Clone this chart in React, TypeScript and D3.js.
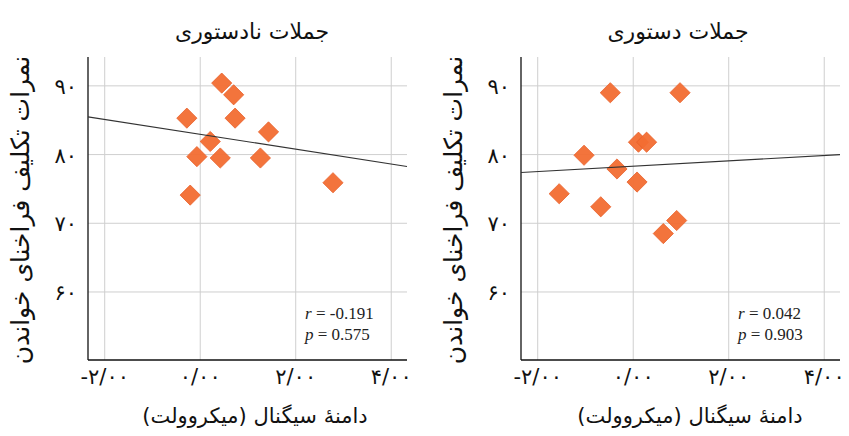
import React from "react";
import * as d3 from "d3";

// values
const xTicks = [-2, 0, 2, 4];
const xTickLabels = ["-۲/۰۰", "۰/۰۰", "۲/۰۰", "۴/۰۰"];
const yTicks = [60, 70, 80, 90];
const yTickLabels = ["۶۰", "۷۰", "۸۰", "۹۰"];

const panelTitles = ["جملات نادستوری", "جملات دستوری"];
const xTitle = "دامنهٔ سیگنال (میکروولت)";
const yTitle = "نمرات تکلیف فراخنای خواندن";

const ungrammaticalX = [0.45, 0.7, -0.28, 0.73, 1.43, 0.21, -0.07, 0.42, 1.26, 2.78, -0.21];
const ungrammaticalY = [90.4, 88.7, 85.3, 85.3, 83.3, 81.9, 79.7, 79.5, 79.5, 75.9, 74.1];

const grammaticalX = [-0.48, 0.98, 0.11, 0.28, -1.03, -0.34, 0.08, -1.55, -0.68, 0.91, 0.63];
const grammaticalY = [89.0, 89.0, 81.8, 81.8, 79.9, 77.9, 76.0, 74.3, 72.4, 70.4, 68.5];

// fitted line: [intercept, slope]
const ungrammaticalFit = [82.95, -1.08];
const grammaticalFit = [78.3, 0.39];

const rValues = ["-0.191", "0.042"];
const pValues = ["0.575", "0.903"];

const persianFont = "'DejaVu Sans', sans-serif";
const statFont = "'Liberation Serif', 'Times New Roman', serif";

const Panel = ({ left, title, xs, ys, fit, r, p, xTitleX, titleX }) => {
  const plotW = 319;
  const top = 57;
  const bottom = 360;
  const x = d3.scaleLinear().domain([-2.35, 4.33]).range([left, left + plotW]);
  const y = d3.scaleLinear().domain([50.1, 94.2]).range([bottom, top]);
  const pts = xs.map((d, i) => [d, ys[i]]);
  const [x0, x1] = x.domain();
  const line = d3.line().x((d) => x(d[0])).y((d) => y(d[1]));
  const fitPts = [
    [x0, fit[0] + fit[1] * x0],
    [x1, fit[0] + fit[1] * x1],
  ];
  const diamond = d3.symbol().type(d3.symbolDiamond2).size(260);

  return (
    <g>
      {xTicks.map((t) => (
        <line key={"gx" + t} x1={x(t)} x2={x(t)} y1={top} y2={bottom} stroke="#cfcfcf" strokeWidth={1} />
      ))}
      {yTicks.map((t) => (
        <line key={"gy" + t} x1={left} x2={left + plotW} y1={y(t)} y2={y(t)} stroke="#cfcfcf" strokeWidth={1} />
      ))}
      <line x1={left} x2={left} y1={top} y2={bottom} stroke="#111" strokeWidth={1.3} />
      <line x1={left} x2={left + plotW} y1={bottom} y2={bottom} stroke="#111" strokeWidth={1.3} />

      {pts.map((d, i) => (
        <path
          key={i}
          d={diamond()}
          transform={`translate(${x(d[0])},${y(d[1])})`}
          fill="#f26d32"
          fillOpacity={0.95}
          stroke="#e8602a"
          strokeWidth={0.8}
        />
      ))}
      <path d={line(fitPts)} fill="none" stroke="#333" strokeWidth={1.1} />

      {xTicks.map((t, i) => (
        <text
          key={"tx" + t}
          x={x(t)}
          y={384}
          textAnchor="middle"
          fontFamily={persianFont}
          fontSize={21}
          letterSpacing={3}
          fill="#111"
        >
          {xTickLabels[i]}
        </text>
      ))}
      {yTicks.map((t, i) => (
        <text key={"ty" + t} x={left - 11} y={y(t) + 8} textAnchor="end" fontFamily={persianFont} fontSize={21} letterSpacing={2} fill="#111">
          {yTickLabels[i]}
        </text>
      ))}

      <text x={left + plotW - 102} y={319} fontFamily={statFont} fontSize={17} fill="#222">
        <tspan fontStyle="italic">r</tspan> = {r}
      </text>
      <text x={left + plotW - 102} y={340} fontFamily={statFont} fontSize={17} fill="#222">
        <tspan fontStyle="italic">p</tspan> = {p}
      </text>

      <text x={titleX} y={39} textAnchor="middle" fontFamily={persianFont} fontSize={22} fill="#111">
        {title}
      </text>
      <text x={xTitleX} y={423} textAnchor="middle" fontFamily={persianFont} fontSize={21} fill="#111">
        {xTitle}
      </text>
      <text
        transform={`translate(${left - 59},210) rotate(-90)`}
        textAnchor="middle"
        fontFamily={persianFont}
        fontSize={25}
        fill="#111"
      >
        {yTitle}
      </text>
    </g>
  );
};

export default function App() {
  return (
    <svg width={849} height={436} style={{ position: "absolute", left: 0, top: 0, background: "#fff" }}>
      <rect width={849} height={436} fill="#fff" />
      <Panel
        left={88}
        title={panelTitles[0]}
        xs={ungrammaticalX}
        ys={ungrammaticalY}
        fit={ungrammaticalFit}
        r={rValues[0]}
        p={pValues[0]}
        titleX={252}
        xTitleX={255}
      />
      <Panel
        left={521}
        title={panelTitles[1]}
        xs={grammaticalX}
        ys={grammaticalY}
        fit={grammaticalFit}
        r={rValues[1]}
        p={pValues[1]}
        titleX={678}
        xTitleX={690}
      />
    </svg>
  );
}
